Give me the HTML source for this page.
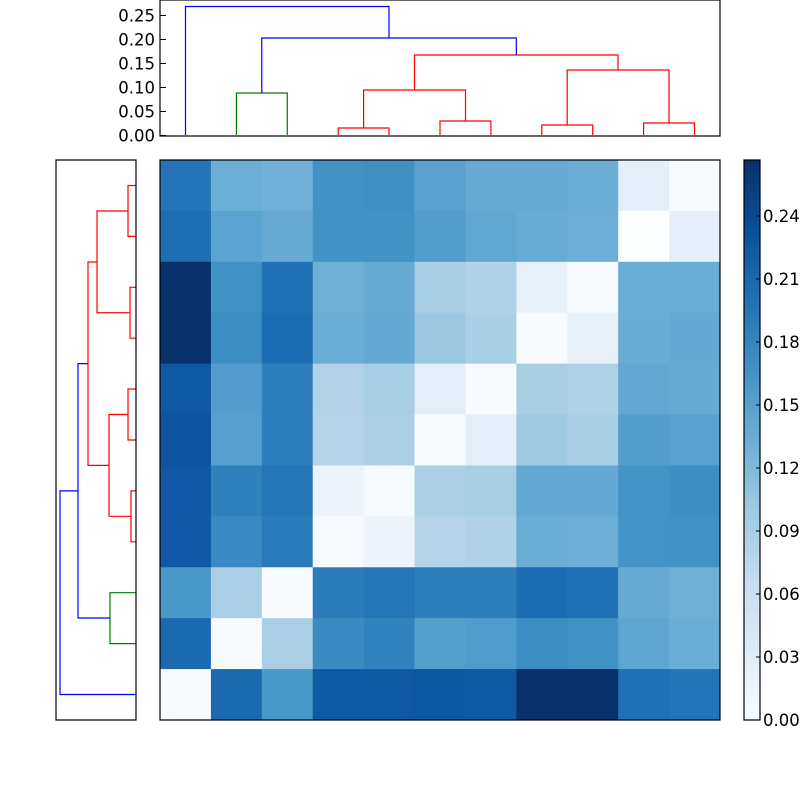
<!DOCTYPE html>
<html><head><meta charset="utf-8"><style>
html,body{margin:0;padding:0;background:#fff;width:800px;height:800px;overflow:hidden}
svg text{font-family:"DejaVu Sans","Liberation Sans",sans-serif;font-size:16.5px;fill:#000}
</style></head><body>
<svg id="s" width="800" height="800" xmlns="http://www.w3.org/2000/svg">
<defs><linearGradient id="g" x1="0" y1="1" x2="0" y2="0">
<stop offset="0" stop-color="#f7fbff"/><stop offset=".125" stop-color="#deebf7"/><stop offset=".25" stop-color="#c6dbef"/><stop offset=".375" stop-color="#9ecae1"/><stop offset=".5" stop-color="#6baed6"/><stop offset=".625" stop-color="#4292c6"/><stop offset=".75" stop-color="#2171b5"/><stop offset=".875" stop-color="#08519c"/><stop offset="1" stop-color="#08306b"/></linearGradient></defs>
<g id="hm"></g>
<rect x="160" y="160" width="560" height="560" fill="none" stroke="#000" stroke-width="1.2"/>
<g fill="none" stroke-width="1.2">
<path d="M236.4,135V93H287.3V135" stroke="green"/>
<path d="M338.2,135V128H389V135M440,135V121H490.9V135M363.6,128V90H465.5V121M541.8,135V125H592.7V135M643.6,135V123H694.5V135M567.2,125V70H669V123M414.5,90V55H618V70" stroke="red"/>
<path d="M261.8,93V38H516.3V55M185.5,135V6.5H389V38" stroke="blue"/>
</g>
<rect x="160" y="0" width="560" height="136" fill="none" stroke="#000" stroke-width="1.2"/>
<g stroke="#000" id="tt"></g>
<g fill="none" stroke-width="1.2">
<path d="M136,185.5H128V236.4H136M136,287.3H130V338.2H136M128,211H97V312.7H130M136,389H128V440H136M136,490.9H131V541.8H136M128,414.5H109V516.3H131M97,262H88V465.4H109" stroke="red"/>
<path d="M136,592.7H110V643.6H136" stroke="green"/>
<path d="M88,363.6H78V618H110M78,490.9H60V694.5H136" stroke="blue"/>
</g>
<rect x="56" y="160" width="80" height="560" fill="none" stroke="#000" stroke-width="1.2"/>
<rect x="744" y="160" width="16" height="560" fill="url(#g)" stroke="#000" stroke-width="1.2"/>
<g id="cb" stroke="#000"></g>
</svg>
<script>
var C=[
["#2474b7","#6baed6","#71b0d8","#4292c6","#4090c5","#5aa1cf","#66aad4","#66aad4","#6aaed6","#e3eef9","#f7fbff"],
["#1f6eb3","#5ba3d0","#66aad4","#4292c6","#4292c6","#529dcc","#60a7d2","#68acd5","#6caed6","#fdfeff","#e6eff9"],
["#08306b","#4292c6","#2171b5","#6fb0d7","#66aad4","#a8cee4","#b0d2e7","#e8f1fa","#f7fbff","#6aaed6","#6aaed6"],
["#08306b","#3e8ec4","#1c6cb1","#6aaed6","#64a9d3","#9cc8e1","#a9cfe5","#f7fbff","#e8f1fa","#69add5","#64a9d3"],
["#0f59a3","#549ccd","#2e7ebc","#b1d2e7","#a6cee4","#e3eef9","#f7fbff","#a8cee4","#afd1e7","#62a8d3","#66aad4"],
["#0d549f","#579fce","#2e7ebc","#b6d4e9","#abd0e6","#f7fbff","#e3eef9","#9dc9e1","#a8cee4","#539dcc","#58a1cf"],
["#1058a5","#3181bd","#2575b7","#edf4fb","#f7fbff","#abd0e6","#a6cee4","#64a9d3","#64a9d3","#4493c7","#3f8fc5"],
["#1058a5","#3a89c1","#2b7bba","#f7fbff","#edf4fb","#b5d4e9","#b0d2e7","#6aaed6","#6daed6","#4493c7","#4292c6"],
["#4a98c9","#abd0e6","#f7fbff","#2c7cba","#2575b7","#2e7ebc","#2e7ebc","#1c6cb1","#2171b5","#66aad4","#6fb0d7"],
["#1b6ab0","#f7fbff","#abd0e6","#3b8bc2","#3282be","#559fcd","#519ccc","#3e8ec4","#4292c6","#5fa5d1","#6aaed6"],
["#f7fbff","#1b69af","#4a98c9","#0f58a4","#0f58a4","#0d56a1","#0f58a4","#08306b","#08306b","#2070b4","#2474b7"]];
var ns="http://www.w3.org/2000/svg",w=560/11,hm=document.getElementById("hm"),S=document.getElementById("s");
function el(p,t,a){var e=document.createElementNS(ns,t);for(var k in a)e.setAttribute(k,a[k]);p.appendChild(e);return e;}
for(var r=0;r<11;r++)for(var c=0;c<11;c++)el(hm,"rect",{x:160+c*w,y:160+r*w,width:w+0.5,height:w+0.5,fill:C[r][c]});
var tt=document.getElementById("tt");
for(var i=0;i<6;i++){var y=135.5-i*24;el(tt,"line",{x1:160,x2:166,y1:y,y2:y});
var t=el(S,"text",{x:155,y:y+6,"text-anchor":"end"});t.textContent=(i*0.05).toFixed(2);}
var cb=document.getElementById("cb");
for(var i=0;i<9;i++){var y=720-i*63;el(cb,"line",{x1:756,x2:760,y1:y,y2:y});
var t=el(S,"text",{x:763,y:y+6});t.textContent=(i*0.03).toFixed(2);}
</script>
</body></html>
